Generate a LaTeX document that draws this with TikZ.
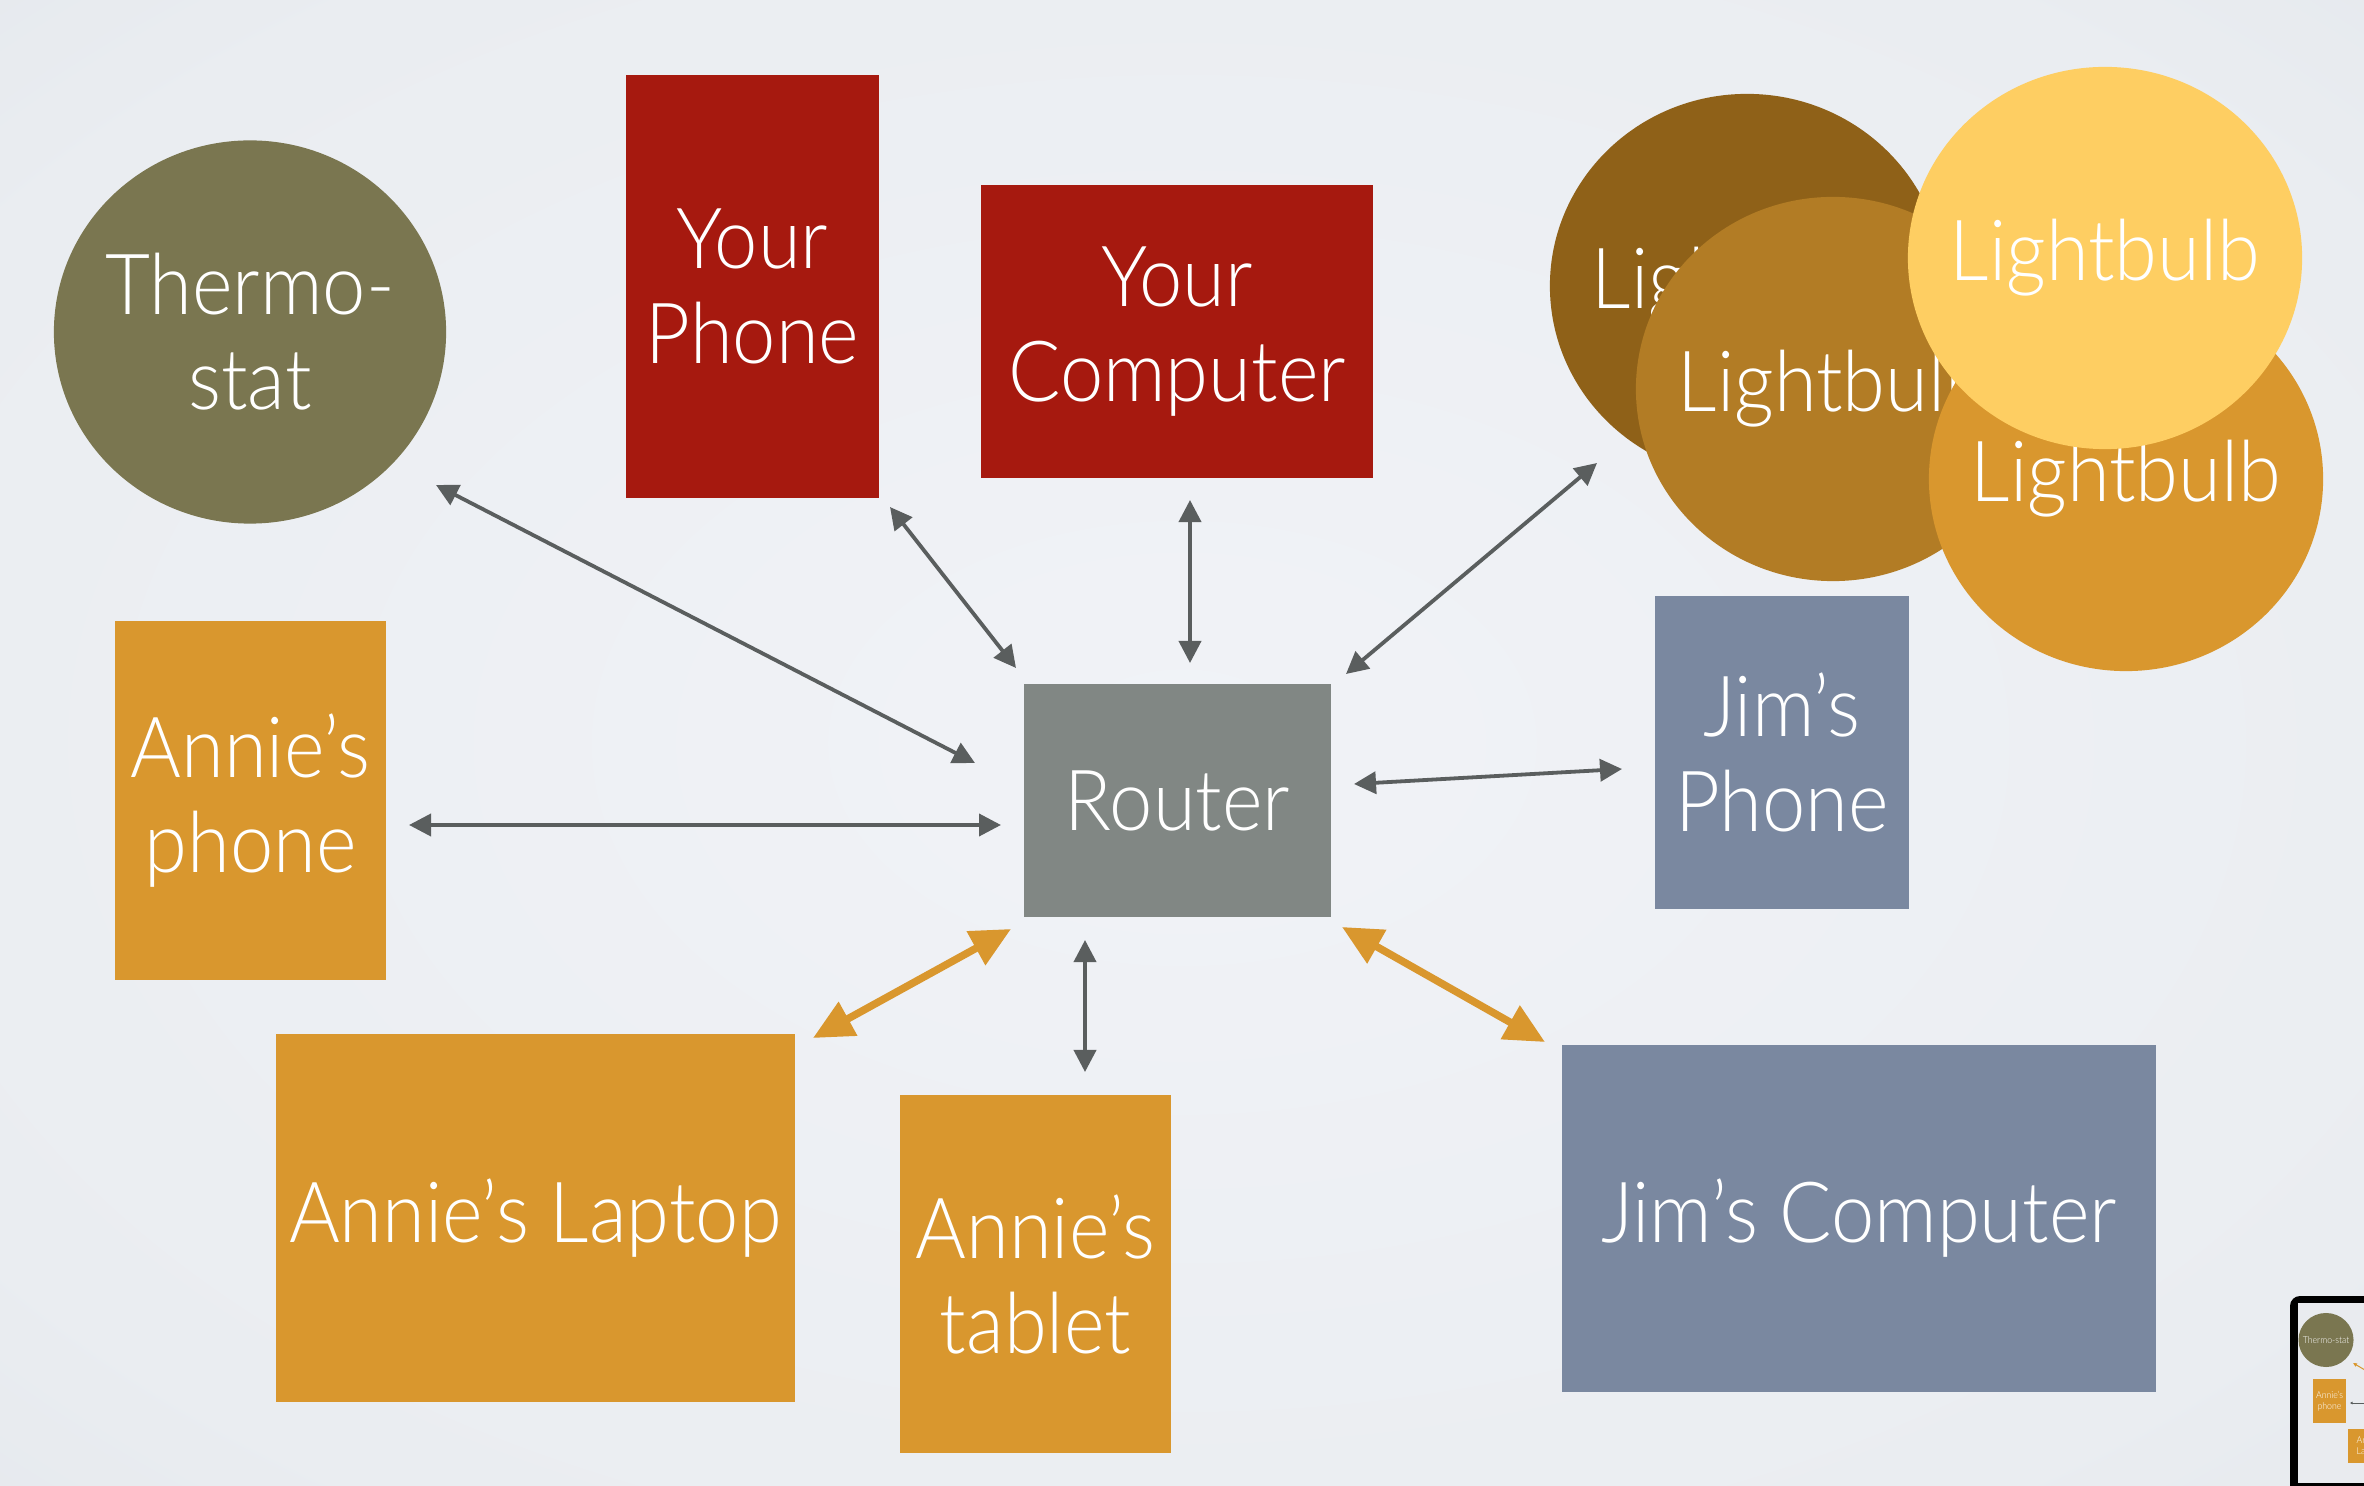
\documentclass[tikz,border=0pt]{standalone}
\usepackage{fontspec}
\setmainfont{Lato Light}[FakeStretch=0.92]
\usetikzlibrary{arrows.meta,shapes.geometric}
\definecolor{cOlive}{HTML}{7A7650}
\definecolor{cRed}{HTML}{A6190F}
\definecolor{cOrange}{HTML}{D9972E}
\definecolor{cSlate}{HTML}{7A88A0}
\definecolor{cRouter}{HTML}{818784}
\definecolor{cLBa}{HTML}{8F6118}
\definecolor{cLBb}{HTML}{B27C25}
\definecolor{cLBc}{HTML}{FECE62}
\definecolor{cArrow}{HTML}{5A5E5E}
\definecolor{cBgIn}{HTML}{F1F3F7}
\definecolor{cBgMid}{HTML}{EAEDF1}
\definecolor{cBgOut}{HTML}{DEE2E7}
\definecolor{cScreen}{HTML}{E9EBEF}
\pgfdeclareradialshading{bgshade}{\pgfpoint{0bp}{0bp}}{color(0bp)=(cBgIn); color(30bp)=(cBgMid); color(50bp)=(cBgOut)}
\tikzset{
  lbl/.style={text=white, font=\fontsize{24}{27}\selectfont, align=center, inner sep=0pt},
  boxnode/.style={lbl, rectangle, draw=none},
  blob/.style={ellipse, draw=none, inner sep=0pt},
  grayarrow/.style={draw=cArrow, line width=0.038cm,
    {Triangle[length=0.22cm,width=0.22cm]}-{Triangle[length=0.22cm,width=0.22cm]}},
  orangearrow/.style={draw=cOrange, line width=0.075cm,
    {Triangle[length=0.40cm,width=0.37cm]}-{Triangle[length=0.40cm,width=0.37cm]}},
  tiny/.style={text=white, font=\fontsize{2.7}{3.1}\selectfont, align=center, inner sep=0pt}
}
\begin{document}
\begin{tikzpicture}[x=0.01cm,y=-0.01cm]
\clip (0,0) rectangle (2364,1486);
\shade[shading=bgshade] (0,0) rectangle (2364,1486);

% nodes
\node[blob, fill=cOlive, minimum width=3.92cm, minimum height=3.83cm,
  label={[lbl]center:Thermo-\\stat}] (therm) at (250,332) {};
\node[boxnode, fill=cRed, minimum width=2.53cm, minimum height=4.23cm] (yphone) at (752.5,286.5) {Your\\Phone};
\node[boxnode, fill=cRed, minimum width=3.92cm, minimum height=2.93cm] (ycomp) at (1177,331.5) {Your\\Computer};

\node[blob, fill=cLBa, minimum width=3.94cm, minimum height=3.84cm,
  label={[lbl]center:Lightbulb}] (lba) at (1747,286) {};
\node[blob, fill=cLBb, minimum width=3.94cm, minimum height=3.84cm,
  label={[lbl]center:Lightbulb}] (lbb) at (1833,389) {};
\node[blob, fill=cOrange, minimum width=3.94cm, minimum height=3.84cm,
  label={[lbl]center:Lightbulb}] (lbd) at (2126,479) {};
\node[blob, fill=cLBc, minimum width=3.94cm, minimum height=3.82cm,
  label={[lbl]center:Lightbulb}] (lbc) at (2105,258) {};

\node[boxnode, fill=cSlate, minimum width=2.54cm, minimum height=3.13cm] (jphone) at (1782,752.5) {Jim’s\\Phone};
\node[boxnode, fill=cRouter, minimum width=3.07cm, minimum height=2.33cm] (router) at (1177.5,800.5) {Router};
\node[boxnode, fill=cOrange, minimum width=2.71cm, minimum height=3.59cm] (aphone) at (250.5,800.5) {Annie’s\\phone};
\node[boxnode, fill=cOrange, minimum width=5.19cm, minimum height=3.68cm] (alaptop) at (535.5,1218) {Annie’s Laptop};
\node[boxnode, fill=cOrange, minimum width=2.71cm, minimum height=3.58cm] (atablet) at (1035.5,1274) {Annie’s\\tablet};
\node[boxnode, fill=cSlate, minimum width=5.94cm, minimum height=3.47cm] (jcomp) at (1859,1218.5) {Jim’s Computer};

% connector end points
\coordinate (t1) at (436,485);   \coordinate (r1) at (975,763);
\coordinate (p2) at (890,507);   \coordinate (r2) at (1016,668);
\coordinate (c3) at (1190,500);  \coordinate (r3) at (1190,663);
\coordinate (l4) at (1597,463);  \coordinate (r4) at (1346,674);
\coordinate (a5) at (409,825);   \coordinate (r5) at (1001,825);
\coordinate (r6) at (1354,784);  \coordinate (j6) at (1622,769);
\coordinate (r7) at (1011,929);  \coordinate (a7) at (813,1038);
\coordinate (r8) at (1085,940);  \coordinate (a8) at (1085,1072);
\coordinate (r9) at (1342,927);  \coordinate (j9) at (1545,1042);

\draw[grayarrow] (t1) -- (r1);
\draw[grayarrow] (p2) -- (r2);
\draw[grayarrow] (c3) -- (r3);
\draw[grayarrow] (l4) -- (r4);
\draw[grayarrow] (a5) -- (r5);
\draw[grayarrow] (r6) -- (j6);
\draw[orangearrow] (r7) -- (a7);
\draw[grayarrow] (r8) -- (a8);
\draw[orangearrow] (r9) -- (j9);

% thumbnail in the corner
\fill[black, rounded corners=0.1cm] (2290,1296) rectangle (2420,1530);
\fill[cScreen] (2298,1303) rectangle (2420,1483);
\node[blob, fill=cOlive, minimum width=0.55cm, minimum height=0.54cm,
  label={[tiny]center:Thermo-stat}] (mtherm) at (2326,1340) {};
\node[tiny, rectangle, fill=cOrange, minimum width=0.33cm, minimum height=0.44cm] (maphone) at (2329.5,1401) {Annie’s\\phone};
\node[tiny, rectangle, fill=cOrange, minimum width=0.55cm, minimum height=0.34cm, anchor=west] (mlaptop) at (2347,1446) {};
\node[tiny, anchor=west, align=left] (mlaptopt) at (2356,1446) {Annie’s\\Laptop};
\coordinate (mo1) at (2353,1363); \coordinate (mo2) at (2370,1373);
\coordinate (mg1) at (2350,1403); \coordinate (mg2) at (2380,1403);
\draw[draw=cOrange, line width=0.01cm, -{Triangle[length=0.04cm,width=0.035cm]}] (mo2) -- (mo1);
\draw[draw=cArrow, line width=0.006cm, -{Triangle[length=0.025cm,width=0.025cm]}] (mg2) -- (mg1);
\end{tikzpicture}
\end{document}
